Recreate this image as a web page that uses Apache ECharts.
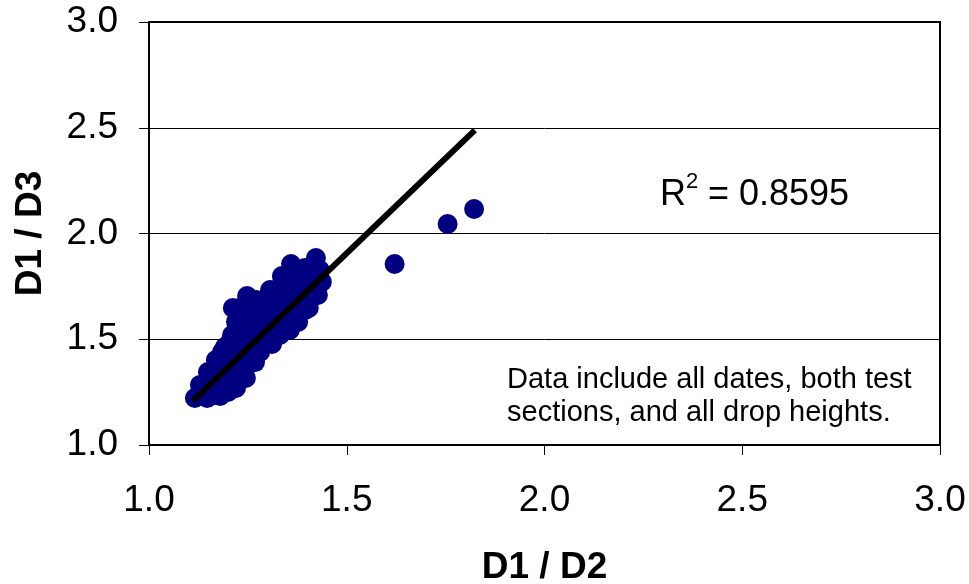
<!DOCTYPE html>
<html>
<head>
<meta charset="utf-8">
<script src="https://cdn.jsdelivr.net/npm/echarts@6/dist/echarts.min.js"></script>
<style>
  html, body { margin: 0; padding: 0; background: #fff; }
  #chart { width: 969px; height: 584px; }
</style>
</head>
<body>
<div id="chart"></div>
<script>
// Deflection ratios: D1/D2 (x) against D1/D3 (y)
const d1d2 = [
  1.116, 1.147, 1.180, 1.245, 1.268, 1.311, 1.356, 1.377, 1.404, 1.427, 1.437,
  1.129, 1.149, 1.169, 1.192, 1.210, 1.220, 1.212, 1.248, 1.281, 1.306, 1.336,
  1.359, 1.422, 1.394, 1.432,
  1.159, 1.180, 1.200, 1.220, 1.240, 1.260, 1.281, 1.301, 1.321, 1.341, 1.362,
  1.382, 1.402, 1.417, 1.394, 1.372, 1.351, 1.331, 1.311, 1.291, 1.271, 1.250,
  1.230, 1.210, 1.190, 1.169, 1.255, 1.276, 1.296, 1.243, 1.230, 1.356, 1.319,
  1.344, 1.286, 1.255, 1.217, 1.192, 1.339, 1.369, 1.394, 1.407, 1.167,
  1.137, 1.154, 1.174, 1.200, 1.220, 1.210, 1.240, 1.230, 1.185, 1.205, 1.225,
  1.240, 1.271, 1.281, 1.306, 1.331, 1.351, 1.372, 1.387, 1.412, 1.407, 1.377,
  1.344, 1.319, 1.268, 1.250, 1.230, 1.271, 1.301, 1.321, 1.336, 1.250, 1.286,
  1.195,
  1.621, 1.755, 1.822
];
const d1d3 = [
  1.222, 1.222, 1.232, 1.317, 1.392, 1.478, 1.544, 1.582, 1.648, 1.709, 1.771,
  1.284, 1.345, 1.402, 1.463, 1.520, 1.582, 1.648, 1.704, 1.662, 1.733, 1.799,
  1.856, 1.884, 1.837, 1.827,
  1.284, 1.317, 1.355, 1.392, 1.430, 1.468, 1.506, 1.544, 1.582, 1.619, 1.657,
  1.695, 1.733, 1.780, 1.780, 1.742, 1.704, 1.667, 1.629, 1.591, 1.553, 1.515,
  1.478, 1.440, 1.402, 1.364, 1.600, 1.629, 1.662, 1.591, 1.544, 1.804, 1.686,
  1.733, 1.482, 1.402, 1.345, 1.284, 1.544, 1.591, 1.638, 1.686, 1.236,
  1.260, 1.307, 1.270, 1.251, 1.270, 1.317, 1.345, 1.392, 1.440, 1.487, 1.520,
  1.473, 1.440, 1.440, 1.497, 1.520, 1.582, 1.629, 1.676, 1.723, 1.837, 1.804,
  1.771, 1.733, 1.591, 1.648, 1.648, 1.686, 1.591, 1.629, 1.591, 1.378, 1.544,
  1.345,
  1.856, 2.045, 2.116
];

// Linear trend line end points
const trendX = [1.111, 1.824];
const trendY = [1.208, 2.489];

const rSquared = '0.8595';
const noteLines = [
  'Data include all dates, both test',
  'sections, and all drop heights.'
];

const FONT = '"Liberation Sans", Arial, sans-serif';

const points = d1d2.map((x, i) => [x, d1d3[i]]);
const trend = trendX.map((x, i) => [x, trendY[i]]);

const chart = echarts.init(document.getElementById('chart'), null, { renderer: 'canvas' });

function valueAxis(extra) {
  return Object.assign({
    type: 'value',
    min: 1,
    max: 3,
    interval: 0.5,
    axisLine: { show: true, onZero: false, lineStyle: { color: '#000', width: 2 } },
    axisTick: { show: true, inside: false, length: 10, lineStyle: { color: '#000', width: 1 } },
    nameLocation: 'middle',
    nameTextStyle: { color: '#000', fontFamily: FONT, fontSize: 37, fontWeight: 'bold' }
  }, extra);
}

chart.setOption({
  animation: false,
  backgroundColor: '#fff',
  grid: {
    left: 149, right: 29, top: 22, bottom: 139,
    outerBoundsMode: 'none',
    containLabel: false,
    show: true, borderColor: '#000', borderWidth: 2, backgroundColor: 'transparent'
  },
  xAxis: valueAxis({
    name: 'D1 / D2',
    nameGap: 104,
    splitLine: { show: false },
    axisLabel: {
      color: '#000', fontFamily: FONT, fontSize: 37, margin: 37,
      formatter: v => v.toFixed(1)
    }
  }),
  yAxis: valueAxis({
    name: 'D1 / D3',
    nameGap: 100,
    nameRotate: 90,
    splitLine: { show: true, lineStyle: { color: '#000', width: 1 } },
    axisLabel: {
      color: '#000', fontFamily: FONT, fontSize: 37, margin: 31,
      formatter: v => v.toFixed(1)
    }
  }),
  series: [
    {
      type: 'scatter',
      data: points,
      symbol: 'circle',
      symbolSize: 20,
      itemStyle: { color: '#000080', opacity: 1 },
      z: 2
    },
    {
      type: 'line',
      data: trend,
      symbol: 'none',
      lineStyle: { color: '#000', width: 6 },
      z: 3
    }
  ],
  graphic: [
    {
      type: 'text', left: 660, top: 177,
      style: { text: 'R', fontFamily: FONT, fontSize: 36, fill: '#000' }
    },
    {
      type: 'text', left: 686, top: 171,
      style: { text: '2', fontFamily: FONT, fontSize: 22, fill: '#000' }
    },
    {
      type: 'text', left: 708, top: 177,
      style: { text: '= ' + rSquared, fontFamily: FONT, fontSize: 36, fill: '#000' }
    },
    {
      type: 'text', left: 507, top: 363,
      style: {
        text: noteLines.join('\n'),
        fontFamily: FONT,
        fontSize: 29,
        lineHeight: 33,
        fill: '#000'
      }
    }
  ]
});
</script>
</body>
</html>
